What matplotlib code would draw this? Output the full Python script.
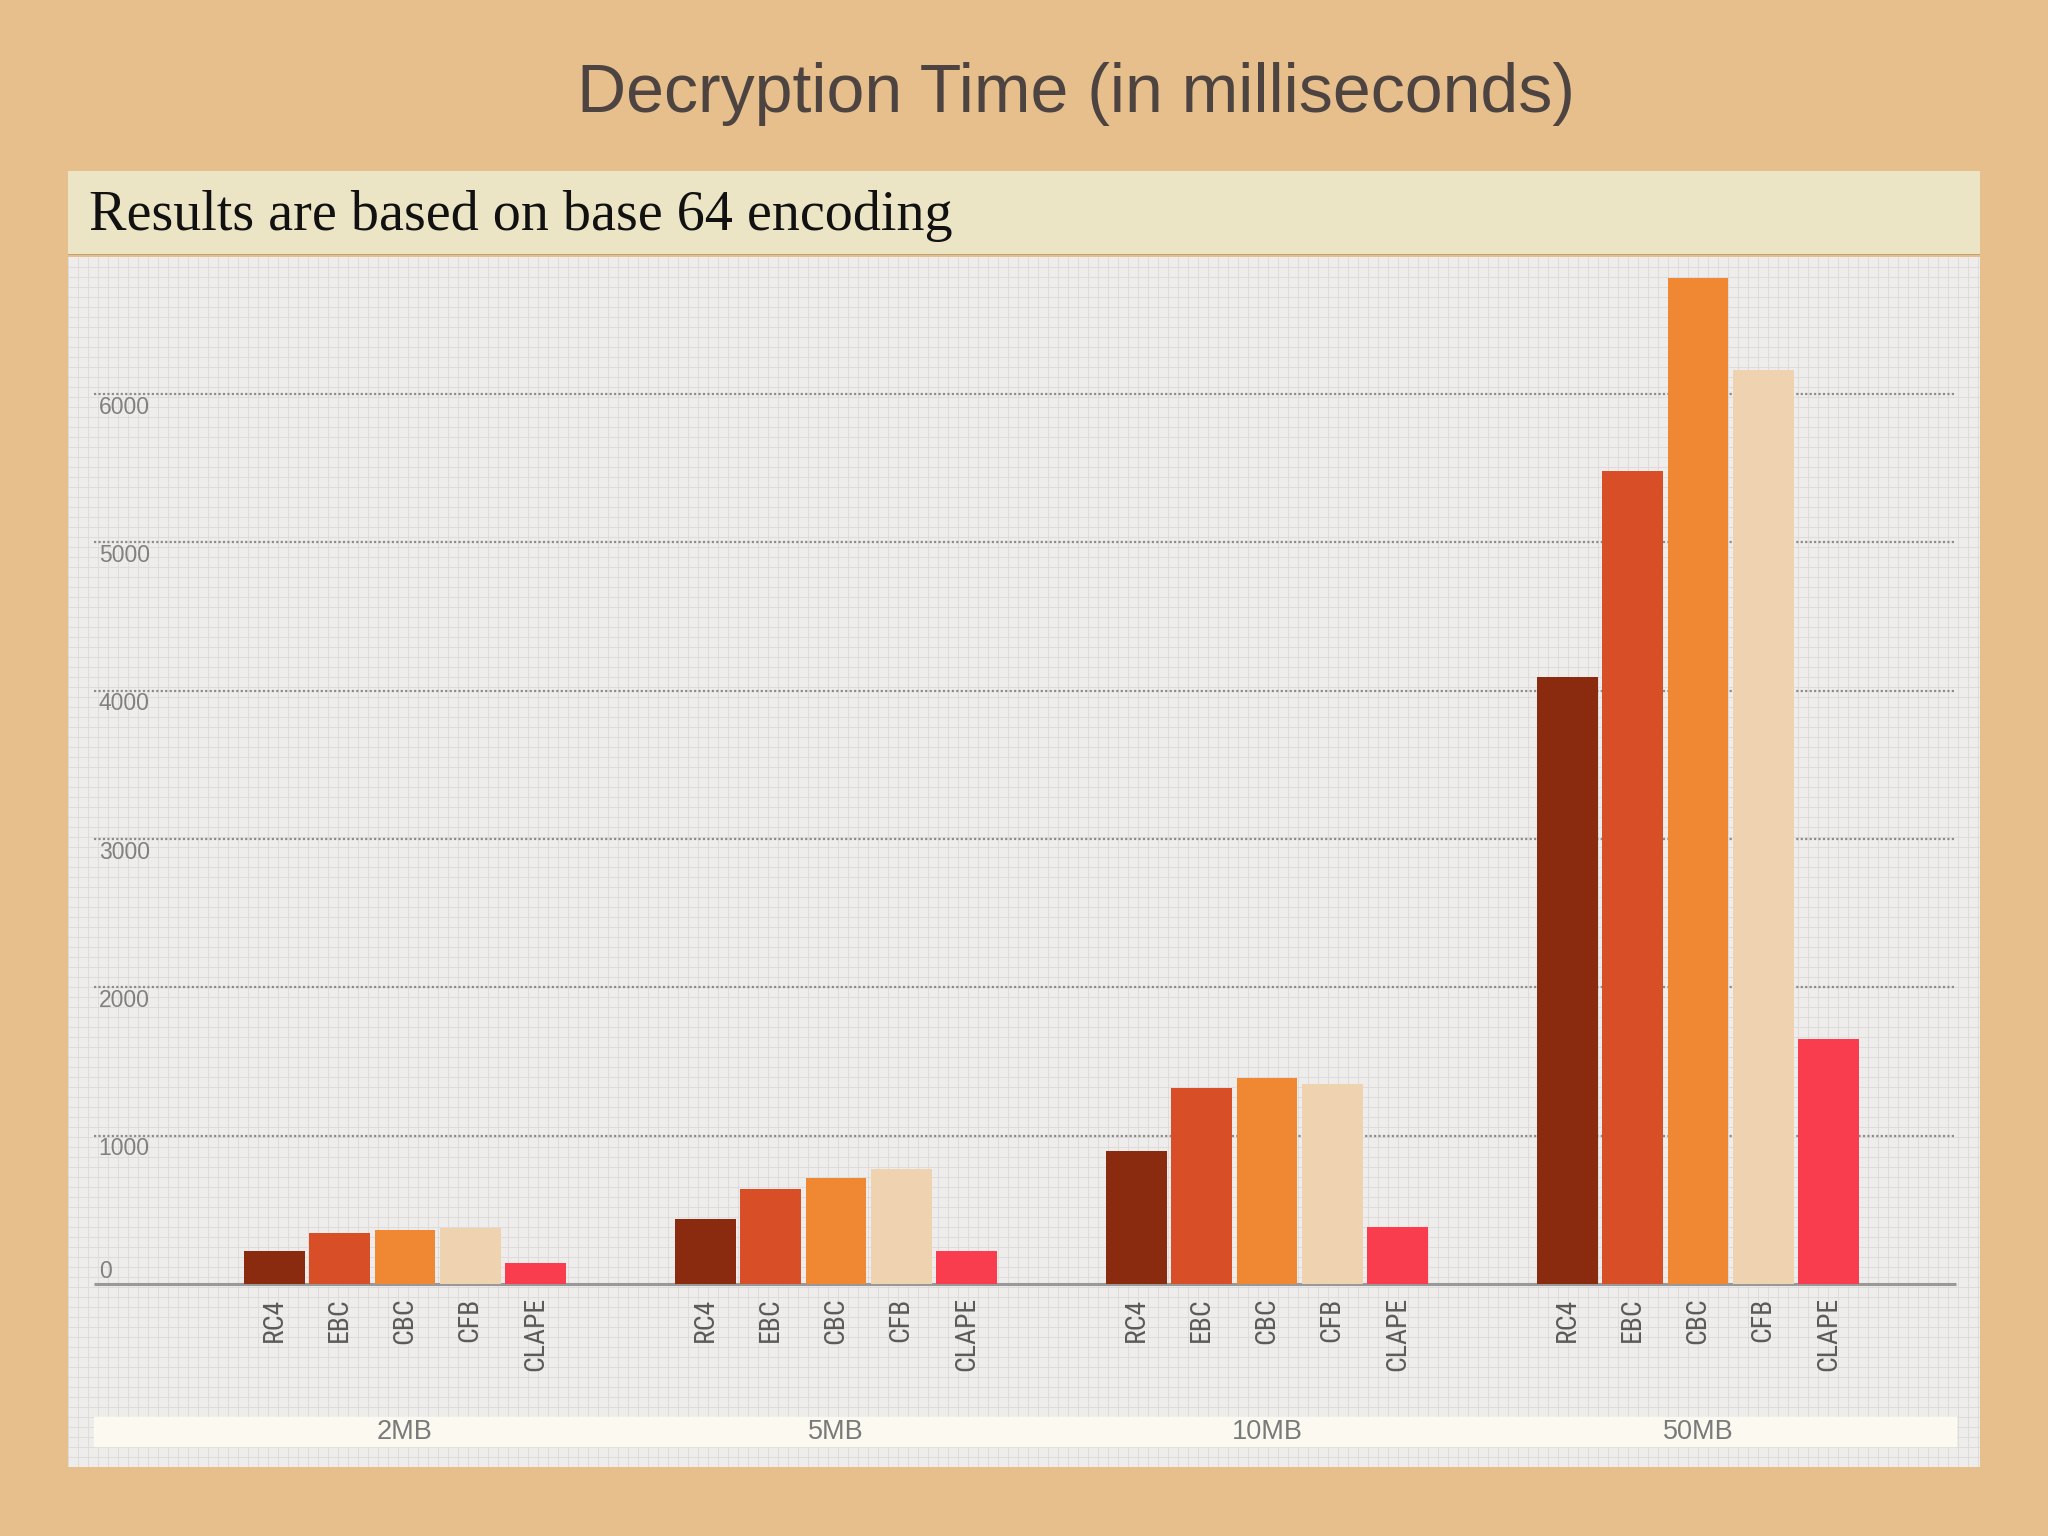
import numpy as np
import matplotlib
matplotlib.use('Agg')
import matplotlib.pyplot as plt
from matplotlib import font_manager

sizes = ['2MB', '5MB', '10MB', '50MB']
algos = ['RC4', 'EBC', 'CBC', 'CFB', 'CLAPE']
rc4 = [220, 440, 897, 4090]
ebc = [345, 642, 1319, 5480]
cbc = [362, 712, 1390, 6780]
cfb = [378, 774, 1346, 6160]
clape = [140, 220, 387, 1655]
yticks = [0, 1000, 2000, 3000, 4000, 5000, 6000]

colors = ['#8a2b0f', '#d84f27', '#f08833', '#efd2b0', '#f93d4f']
group_gap = 6.6

# narrow font for the rotated labels if one is around
names = {f.name for f in font_manager.fontManager.ttflist}
narrow = None
for n in ['Liberation Sans Narrow', 'Roboto Condensed', 'DejaVu Sans Condensed', 'Open Sans Condensed']:
    if n in names:
        narrow = n
        break
if narrow:
    lab_family, lab_size = [narrow, 'DejaVu Sans'], 20
else:
    lab_family, lab_size = ['Liberation Sans', 'DejaVu Sans'], 16.5

fig = plt.figure(figsize=(20.48, 15.36), dpi=100)
fig.patch.set_facecolor('#e6bf8c')

fig.text(0.5254, 0.939, 'Decryption Time (in milliseconds)', ha='center', va='center',
         fontsize=49, color='#4d4340', family=['Liberation Sans', 'DejaVu Sans'])

# subtitle band
band = fig.add_axes([0.0332, 0.834, 0.9336, 0.0547])
band.set_facecolor('#ebe5c6')
band.set_xticks([])
band.set_yticks([])
for s in band.spines.values():
    s.set_visible(False)
band.axhline(0, color='#b89a6a', lw=2)
fig.text(0.0435, 0.850, 'Results are based on base 64 encoding', ha='left', va='baseline',
         fontsize=40.4, color='#111111', family=['Liberation Serif', 'DejaVu Serif'])

# chart panel
ax = fig.add_axes([0.0332, 0.0449, 0.9336, 0.7878])
ax.set_facecolor('#eeedeb')
ax.set_xlim(-5.16, 24.12)
ax.set_ylim(-1234, 6924)
ax.set_xticks([])
ax.set_yticks([])
for s in ax.spines.values():
    s.set_visible(False)

# graph paper texture
px = np.arange(0, 1, 10 / 1912)
py = np.arange(0, 1, 10 / 1210)
ax.vlines(px, 0, 1, transform=ax.transAxes, color='#dddcda', lw=0.7, zorder=0)
ax.hlines(py, 0, 1, transform=ax.transAxes, color='#dddcda', lw=0.7, zorder=0)

x0, x1 = -4.76, 23.75
for v in yticks[1:]:
    ax.hlines(v, x0, x1, color='#8c8c8c', lw=1.6, linestyle=(0, (1, 1)), zorder=1)
    ax.text(-4.69, v - 88, str(v), ha='left', va='center', fontsize=16.5, color='#808080',
            family=['Liberation Sans', 'DejaVu Sans'])
ax.hlines(0, x0, x1, color='#999999', lw=2.2, zorder=1)
ax.text(-4.69, 81, '0', ha='left', va='center', fontsize=16.5, color='#808080',
        family=['Liberation Sans', 'DejaVu Sans'])

series = [rc4, ebc, cbc, cfb, clape]
for j, (vals, c) in enumerate(zip(series, colors)):
    xs = [g * group_gap + (j - 2) for g in range(len(sizes))]
    ax.bar(xs, vals, width=0.93, color=c, zorder=2)
    for x in xs:
        ax.text(x, -90, algos[j], rotation=90, ha='center', va='top', fontsize=lab_size,
                color='#5a5a5a', family=lab_family)

# group label strip
ax.fill_between([x0, x1], -1092, -897, color='#fcf9f1', zorder=1)
for g, s in enumerate(sizes):
    ax.text(g * group_gap, -995, s, ha='center', va='center', fontsize=19.5, color='#7a7a7a',
            family=['Liberation Sans', 'DejaVu Sans'])

fig.savefig('out.png', dpi=100, facecolor=fig.get_facecolor())
